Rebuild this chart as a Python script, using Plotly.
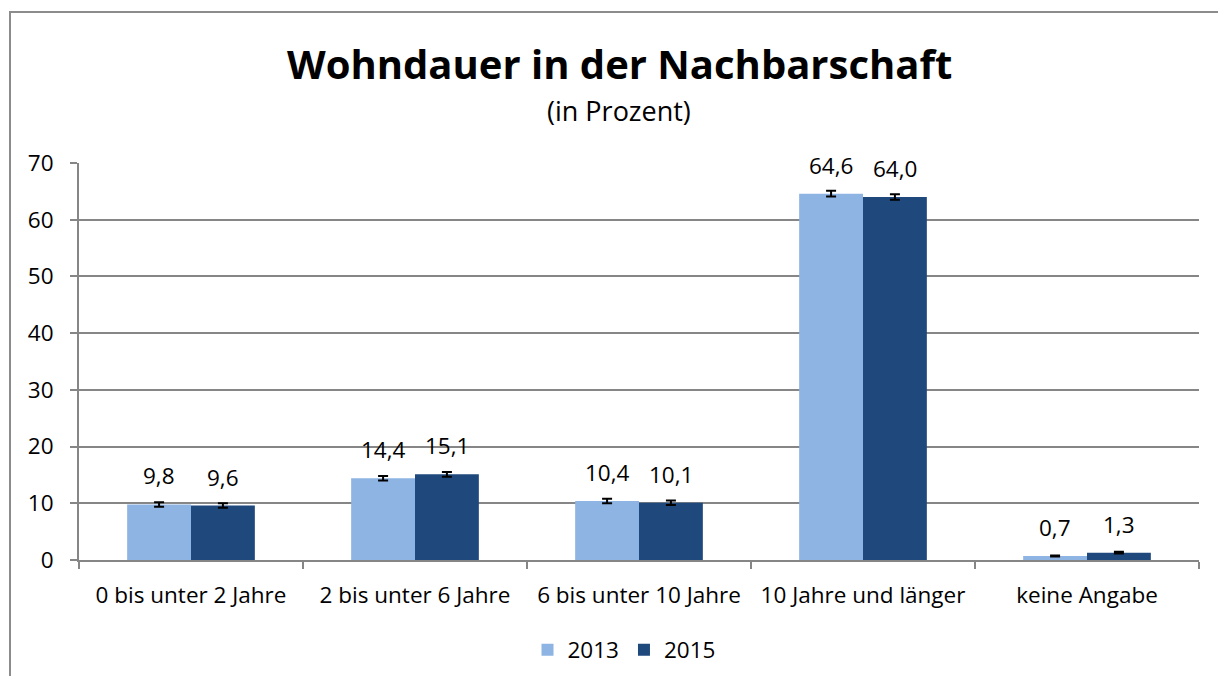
import plotly.graph_objects as go

categories = ["0 bis unter 2 Jahre", "2 bis unter 6 Jahre", "6 bis unter 10 Jahre",
              "10 Jahre und länger", "keine Angabe"]
values_2013 = [9.8, 14.4, 10.4, 64.6, 0.7]
values_2015 = [9.6, 15.1, 10.1, 64.0, 1.3]
err_2013 = [0.4, 0.4, 0.4, 0.5, 0.1]
err_2015 = [0.4, 0.4, 0.4, 0.5, 0.15]
labels_2013 = ["9,8", "14,4", "10,4", "64,6", "0,7"]
labels_2015 = ["9,6", "15,1", "10,1", "64,0", "1,3"]

FONT = "Open Sans"
FS = 22.5
OFF = 8  # page body margin
W, H = 1210, 668
# plot area in screen pixels
SX0, SX1, SY0, SY1 = 79, 1199, 163, 560
L, R, T, B = SX0 - OFF, W - (SX1 - OFF), SY0 - OFF, H - (SY1 - OFF)
pw, ph = SX1 - SX0, SY1 - SY0

def px_x(p):
    return (p - SX0) / pw

def px_y(p):
    return (SY1 - p) / ph

fig = go.Figure()
fig.add_trace(go.Bar(
    x=categories, y=values_2013, name="2013", marker_color="#8EB4E3",
    marker_line_width=0,
    error_y=dict(type="data", array=err_2013, color="black", thickness=2, width=5),
))
fig.add_trace(go.Bar(
    x=categories, y=values_2015, name="2015", marker_color="#1F497D",
    marker_line_width=0,
    error_y=dict(type="data", array=err_2015, color="black", thickness=2, width=5),
))

annotations = []
for c, v, t in zip(categories, values_2013, labels_2013):
    annotations.append(dict(x=c, y=v, text=t, xshift=-32, yshift=11, yanchor="bottom",
                            showarrow=False, font=dict(family=FONT, size=FS, color="black")))
for c, v, t in zip(categories, values_2015, labels_2015):
    annotations.append(dict(x=c, y=v, text=t, xshift=32, yshift=11, yanchor="bottom",
                            showarrow=False, font=dict(family=FONT, size=FS, color="black")))

annotations.append(dict(xref="paper", yref="paper", x=px_x(619), y=px_y(63),
                        text="<b>Wohndauer in der Nachbarschaft</b>", showarrow=False,
                        font=dict(family=FONT, size=40, color="black"),
                        xanchor="center", yanchor="middle"))
annotations.append(dict(xref="paper", yref="paper", x=px_x(619), y=px_y(110),
                        text="(in Prozent)", showarrow=False,
                        font=dict(family=FONT, size=27, color="black"),
                        xanchor="center", yanchor="middle"))

fig.update_layout(
    width=W, height=H,
    margin=dict(l=L, r=R, t=T, b=B, autoexpand=False),
    paper_bgcolor="white", plot_bgcolor="white",
    barmode="group", bargap=0.43, bargroupgap=0,
    font=dict(family=FONT, size=FS, color="black"),
    showlegend=True,
    legend=dict(orientation="h", x=px_x(624), y=px_y(650), xanchor="center", yanchor="middle",
                font=dict(family=FONT, size=FS), itemwidth=30, traceorder="normal"),
    annotations=annotations,
    shapes=[dict(type="rect", xref="paper", yref="paper",
                 x0=px_x(10), y0=px_y(720), x1=px_x(1260), y1=px_y(12),
                 line=dict(color="#8c8c8c", width=2), layer="below")],
)
fig.update_xaxes(
    showline=True, linecolor="#868686", linewidth=2, automargin=False,
    ticks="outside", tickson="boundaries", ticklen=7, tickcolor="#868686", tickwidth=2,
    showgrid=False, tickfont=dict(family=FONT, size=FS), ticklabelstandoff=14,
)
fig.update_yaxes(
    range=[0, 70], dtick=10, showline=True, linecolor="#868686", linewidth=2, automargin=False,
    ticks="outside", ticklen=7, tickcolor="#868686", tickwidth=2,
    showgrid=True, gridcolor="#868686", gridwidth=2, zeroline=False,
    tickfont=dict(family=FONT, size=FS), ticklabelstandoff=12,
)

fig.write_html("out.html")
